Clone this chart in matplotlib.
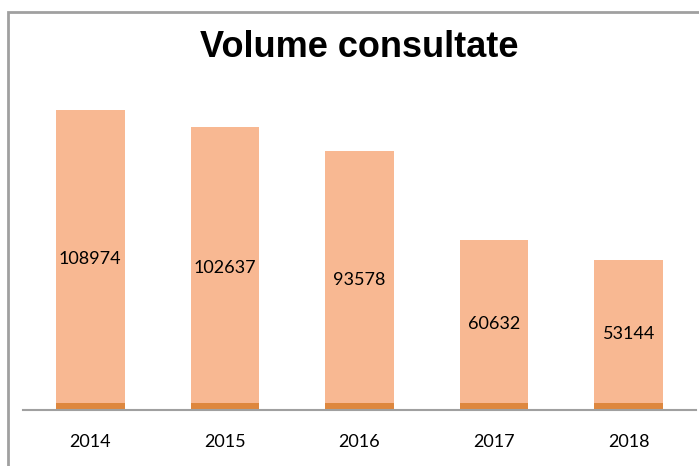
import matplotlib
matplotlib.use("Agg")
import matplotlib.pyplot as plt
from matplotlib.patches import Rectangle

years = ["2014", "2015", "2016", "2017", "2018"]
consultate = [108974, 102637, 93578, 60632, 53144]
base = [2600, 2600, 2600, 2600, 2600]

LIGHT, DARK, GRAY = "#F8B892", "#DE873E", "#A0A0A0"

fig = plt.figure(figsize=(6.99, 4.66), dpi=100)
ax = fig.add_axes([23 / 699, 56 / 466, 673 / 699, 323 / 466])

x = range(len(years))
ax.bar(x, base, width=0.51, color=DARK)
ax.bar(x, consultate, width=0.51, bottom=base, color=LIGHT)
for i, (b, v) in enumerate(zip(base, consultate)):
    ax.text(i, b + v / 2 - 1000, str(v), ha="center", va="center", fontsize=13, family="Lato")

ax.set_xlim(-0.5, len(years) - 0.5)
ax.set_ylim(0, 120000)
ax.set_xticks(list(x))
ax.set_xticklabels(years, fontsize=13, family="Lato")
ax.tick_params(axis="x", length=0, pad=17)
ax.set_yticks([])
ax.spines[["top", "right", "left"]].set_visible(False)
ax.spines["bottom"].set_color(GRAY)
ax.spines["bottom"].set_linewidth(1.5)

fig.text(359 / 699, 1 - 57 / 466, "Volume consultate", ha="center", va="baseline",
         fontsize=26, fontweight="bold", family="Liberation Sans")

# chart frame (cropped at right and bottom)
fig.add_artist(Rectangle((8 / 699, -0.1), 1.1, 1 - 12 / 466 + 0.1, transform=fig.transFigure,
                         fill=False, edgecolor=GRAY, linewidth=2))

fig.savefig("out.png", dpi=100, facecolor="white")
